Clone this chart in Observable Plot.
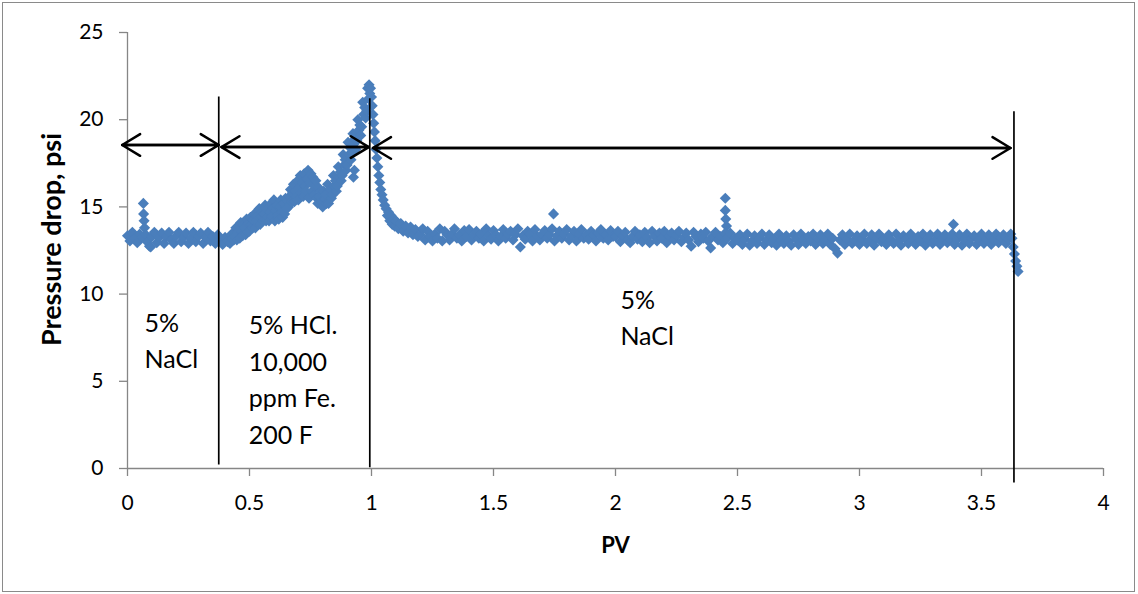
<!DOCTYPE html>
<html>
<head>
<meta charset="utf-8">
<script src="https://cdn.jsdelivr.net/npm/d3@7"></script>
<script src="https://cdn.jsdelivr.net/npm/@observablehq/plot@0.6"></script>
<style>
  html, body { margin: 0; padding: 0; background: #fff; overflow: hidden; }
  #wrap { position: relative; width: 1138px; height: 594px; }
  #frame { position: absolute; left: 2px; top: 2px; width: 1131px; height: 588px;
           border: 1px solid #8a8a8a; pointer-events: none; }
</style>
</head>
<body>
<div id="wrap"><div id="frame"></div></div>
<script>
// Core flood: pressure drop (psi) against injected pore volumes (PV), [pv, dp] readings.
// Stage 1: 5% NaCl preflush
const preflushNaCl = [
  [0.00,13.35],[0.01,13.05],[0.02,13.55],[0.03,13.2],[0.04,12.95],[0.05,13.45],[0.06,13.25],
  [0.065,15.2],[0.066,14.6],[0.068,14.2],[0.07,13.8],[0.075,13.4],[0.08,13.0],[0.09,12.75],[0.095,12.7],
  [0.10,13.3],[0.11,13.55],[0.12,12.95],[0.13,13.25],[0.14,13.5],[0.15,12.9],[0.16,13.3],[0.17,13.55],[0.18,13.1],[0.19,12.9],
  [0.20,13.35],[0.21,13.55],[0.22,13.0],[0.23,13.25],[0.24,13.5],[0.25,12.9],[0.26,13.2],[0.27,13.55],[0.28,13.0],[0.29,13.3],
  [0.30,13.5],[0.31,12.9],[0.32,13.25],[0.33,13.55],[0.34,13.05],[0.35,13.3],[0.36,12.9],[0.37,13.4],[0.38,13.15],[0.39,12.85],
  [0.40,13.25],[0.41,13.0]
];

// Stage 2: 5% HCl with 10,000 ppm Fe at 200 F
const acidHCl = [
  [0.420,12.9],[0.424,13.4],[0.428,13.15],[0.432,13.5],[0.436,13.1],
  [0.440,13.3],[0.444,13.8],[0.448,13.1],[0.452,13.55],[0.456,13.9],
  [0.460,13.2],[0.464,14.1],[0.468,13.6],[0.472,13.35],[0.476,14.0],
  [0.480,13.8],[0.484,13.4],[0.488,14.3],[0.492,13.6],[0.496,14.05],
  [0.500,13.6],[0.504,14.4],[0.508,14.0],[0.512,13.8],[0.516,14.25],
  [0.520,14.6],[0.524,13.8],[0.528,14.2],[0.532,14.5],[0.536,14.0],
  [0.540,14.9],[0.544,14.0],[0.548,14.45],[0.552,14.7],[0.556,14.2],
  [0.560,14.6],[0.564,15.1],[0.568,14.2],[0.572,14.85],[0.576,14.4],
  [0.580,14.2],[0.584,14.7],[0.588,15.2],[0.592,14.45],[0.596,14.95],
  [0.600,15.4],[0.604,14.2],[0.608,14.8],[0.612,15.1],[0.616,14.5],
  [0.620,14.3],[0.624,15.0],[0.628,15.4],[0.632,14.7],[0.636,14.4],
  [0.640,15.2],[0.644,14.6],[0.648,15.5],[0.652,14.9],[0.656,15.3],
  [0.660,15.0],[0.664,15.6],[0.668,16.0],[0.672,15.3],[0.676,15.8],
  [0.680,16.3],[0.684,15.3],[0.688,15.9],[0.692,15.6],[0.696,16.5],
  [0.700,15.4],[0.704,16.1],[0.708,16.8],[0.712,15.8],[0.716,16.4],
  [0.720,15.6],[0.724,16.9],[0.728,16.2],[0.732,15.9],[0.736,16.6],
  [0.740,17.1],[0.744,15.5],[0.748,16.4],[0.752,16.9],[0.756,15.9],
  [0.760,16.7],[0.764,15.7],[0.768,16.2],[0.772,16.5],[0.776,15.5],
  [0.780,15.2],[0.784,16.1],[0.788,15.6],[0.792,15.9],[0.796,15.3],
  [0.800,15.0],[0.804,15.9],[0.808,15.45],[0.812,15.7],[0.816,15.2],
  [0.820,16.3],[0.824,15.2],[0.828,15.8],[0.832,16.0],[0.836,15.5],
  [0.840,15.7],[0.844,16.8],[0.848,16.2],[0.852,16.5],[0.856,15.9],
  [0.860,16.2],[0.864,17.3],[0.868,16.7],[0.872,17.0],[0.876,16.5],
  [0.880,16.8],[0.884,18.0],[0.888,17.4],[0.892,17.7],[0.896,17.1],
  [0.900,17.4],[0.904,18.7],[0.908,18.0],[0.912,18.4],[0.916,17.7],
  [0.920,18.1],[0.924,19.2],[0.926,16.7],[0.928,18.6],[0.930,17.1],[0.932,18.9],[0.936,18.3],
  [0.940,18.8],[0.944,20.0],[0.948,19.4],[0.952,19.7],[0.956,19.1],
  [0.960,19.6],[0.964,21.0],[0.968,20.3],[0.972,20.7],[0.976,20.1],
  [0.980,20.5],[0.984,21.8],[0.988,21.2],[0.990,22.0],[0.993,21.5]
];

// Stage 3: 5% NaCl postflush
const postflushNaCl = [
  [0.996,21.8],[1.000,21.3],[1.003,20.8],[1.006,20.3],[1.009,19.8],[1.012,19.3],[1.015,18.8],[1.018,18.3],[1.022,17.8],[1.026,17.3],
  [1.030,16.8],[1.034,16.4],[1.038,16.0],[1.043,15.7],[1.048,15.4],[1.054,15.1],[1.06,14.9],[1.065,14.5],[1.07,14.7],[1.075,14.2],
  [1.08,14.5],[1.085,14.0],[1.09,14.3],[1.095,13.9],[1.10,14.2],[1.11,13.75],[1.12,14.05],[1.13,13.6],[1.14,13.9],[1.15,13.5],
  [1.16,13.85],[1.17,13.4],[1.18,13.7],[1.19,13.3],
  [1.20,13.4],[1.21,13.75],[1.22,13.1],[1.23,13.6],[1.24,13.35],[1.25,13.05],[1.26,13.45],[1.27,13.2],[1.28,13.75],[1.29,13.05],
  [1.30,13.6],[1.31,13.4],[1.32,13.1],[1.33,13.45],[1.34,13.75],[1.35,13.2],[1.36,13.4],[1.37,13.05],[1.38,13.65],[1.39,13.3],
  [1.40,13.7],[1.41,13.1],[1.42,13.4],[1.43,13.6],[1.44,13.2],[1.45,13.45],[1.46,13.05],[1.47,13.75],[1.48,13.35],[1.49,13.15],
  [1.50,13.65],[1.51,13.4],[1.52,13.05],[1.53,13.3],[1.54,13.7],[1.55,13.2],[1.56,13.45],[1.57,13.6],[1.58,13.1],[1.59,13.4],
  [1.60,13.75],[1.61,12.7],[1.62,13.35],[1.63,13.15],[1.64,13.6],[1.65,13.45],[1.66,13.05],[1.67,13.7],[1.68,13.3],[1.69,13.1],
  [1.70,13.45],[1.71,13.65],[1.72,13.2],[1.73,13.4],[1.74,13.75],[1.746,14.6],[1.75,13.05],[1.76,13.35],[1.77,13.6],[1.78,13.2],[1.79,13.45],
  [1.80,13.7],[1.81,13.1],[1.82,13.35],[1.83,13.6],[1.84,13.05],[1.85,13.45],[1.86,13.7],[1.87,13.2],[1.88,13.4],[1.89,13.15],
  [1.90,13.6],[1.91,13.35],[1.92,13.05],[1.93,13.5],[1.94,13.7],[1.95,13.2],[1.96,13.4],[1.97,13.1],[1.98,13.65],[1.99,13.3],
  [2.00,13.3],[2.01,13.6],[2.02,13.0],[2.03,13.35],[2.04,13.55],[2.05,13.1],[2.06,12.95],[2.07,13.3],[2.08,13.6],[2.09,13.15],
  [2.10,13.4],[2.11,13.0],[2.12,13.55],[2.13,13.25],[2.14,12.95],[2.15,13.6],[2.16,13.3],[2.17,13.05],[2.18,13.5],[2.19,13.2],
  [2.20,13.6],[2.21,12.95],[2.22,13.3],[2.23,13.5],[2.24,13.1],[2.25,13.35],[2.26,13.6],[2.27,13.0],[2.28,13.25],[2.29,13.5],
  [2.30,13.1],[2.31,12.75],[2.32,13.55],[2.33,13.3],[2.34,13.0],[2.35,13.45],[2.36,13.2],[2.37,13.55],[2.38,13.05],[2.39,12.65],
  [2.40,13.35],[2.41,13.55],[2.42,13.1],[2.43,13.3],[2.44,12.95],[2.45,15.5],[2.45,14.8],[2.452,14.3],[2.455,13.9],[2.45,13.5],
  [2.46,13.25],[2.47,13.5],[2.48,12.9],[2.49,13.2],
  [2.50,13.1],[2.51,13.4],[2.52,12.85],[2.53,13.15],[2.54,13.45],[2.55,12.8],[2.56,13.05],[2.57,13.35],[2.58,12.9],[2.59,13.2],
  [2.60,13.45],[2.61,12.85],[2.62,13.1],[2.63,13.4],[2.64,12.95],[2.65,13.15],[2.66,12.8],[2.67,13.45],[2.68,13.1],[2.69,12.9],
  [2.70,13.35],[2.71,13.05],[2.72,12.8],[2.73,13.4],[2.74,13.15],[2.75,12.85],[2.76,13.45],[2.77,13.1],[2.78,12.9],[2.79,13.3],
  [2.80,13.05],[2.81,13.45],[2.82,12.85],[2.83,13.15],[2.84,13.4],[2.85,12.9],[2.86,13.1],[2.87,13.45],[2.88,12.85],[2.89,13.2],
  [2.90,12.6],[2.91,12.35],[2.92,13.1],[2.93,13.4],[2.94,12.85],[2.95,13.15],[2.96,13.45],[2.97,12.9],[2.98,13.1],[2.99,13.35],
  [3.00,12.85],[3.01,13.15],[3.02,13.45],[3.03,12.9],[3.04,13.1],[3.05,13.4],[3.06,12.8],[3.07,13.2],[3.08,13.45],[3.09,13.0],
  [3.10,13.15],[3.11,12.85],[3.12,13.4],[3.13,13.1],[3.14,12.9],[3.15,13.45],[3.16,13.05],[3.17,12.8],[3.18,13.35],[3.19,13.15],
  [3.20,12.9],[3.21,13.45],[3.22,13.1],[3.23,12.85],[3.24,13.3],[3.25,13.05],[3.26,13.45],[3.27,12.8],[3.28,13.15],[3.29,13.4],
  [3.30,12.9],[3.31,13.1],[3.32,13.45],[3.33,12.85],[3.34,13.2],[3.35,13.4],[3.36,12.95],[3.37,13.1],[3.38,13.45],[3.385,14.0],[3.39,12.85],
  [3.40,13.15],[3.41,13.4],[3.42,12.8],[3.43,13.1],[3.44,13.45],[3.45,12.9],[3.46,13.2],[3.47,13.35],[3.48,12.85],[3.49,13.1],
  [3.50,13.45],[3.51,12.9],[3.52,13.15],[3.53,13.4],[3.54,12.85],[3.55,13.1],[3.56,13.45],[3.57,12.95],[3.58,13.2],[3.59,13.4],
  [3.60,12.9],[3.61,13.15],[3.62,13.45],[3.625,13.2],[3.63,12.7],[3.635,12.3],[3.64,11.9],[3.645,11.6],[3.65,11.3]
];

// Axis ticks
const pvTicks = [0, 0.5, 1, 1.5, 2, 2.5, 3, 3.5, 4];
const dpTicks = [0, 5, 10, 15, 20, 25];

// Stage boundaries (vertical lines) in PV, with their vertical extent in psi
const boundaryPv = [0.374, 0.993, 3.633];
const boundaryTop = [21.3, 21.2, 20.46];
const boundaryBottom = [0.2, 0.05, -0.83];

// Double-headed arrows spanning each stage
const spanStart = [-0.022, 0.385, 1.006];
const spanEnd = [0.374, 0.989, 3.619];
const spanDp = [18.55, 18.43, 18.38];

// Stage descriptions
const stageText = ["5%\nNaCl", "5% HCl.\n10,000\nppm Fe.\n200 F", "5%\nNaCl"];
const stageTextPv = [0.07, 0.497, 2.02];
const stageTextDp = [9.34, 9.18, 10.64];

const blue = "#4a7ebb";
const axisGray = "#868686";

const readings = [
  ...preflushNaCl.map(([pv, dp]) => ({pv, dp, stage: "preflush"})),
  ...acidHCl.map(([pv, dp]) => ({pv, dp, stage: "acid"})),
  ...postflushNaCl.map(([pv, dp]) => ({pv, dp, stage: "postflush"}))
];
const boundaries = boundaryPv.map((pv, i) => ({pv, top: boundaryTop[i], bottom: boundaryBottom[i]}));
const spans = spanStart.map((s, i) => ({start: s, end: spanEnd[i], dp: spanDp[i]}));
const labels = stageText.map((text, i) => ({text, pv: stageTextPv[i], dp: stageTextDp[i]}));

const arrowStyle = {stroke: "black", strokeWidth: 2.5, headAngle: 62, headLength: 12.6};

const chart = Plot.plot({
  width: 1138,
  height: 594,
  marginLeft: 127,
  marginRight: 35,
  marginTop: 32,
  marginBottom: 126,
  x: {domain: [0, 4]},
  y: {domain: [0, 25]},
  style: {fontFamily: "Lato, 'Open Sans', sans-serif", background: "transparent", overflow: "visible", color: "black"},
  marks: [
    Plot.axisX({ticks: pvTicks, tickFormat: (d) => `${d}`, tickSize: 8, tickPadding: 19, fontSize: 21,
                stroke: axisGray, strokeWidth: 1.3, fill: "black", label: null}),
    Plot.axisY({ticks: dpTicks, tickFormat: (d) => `${d}`, tickSize: 8, tickPadding: 16, fontSize: 21,
                stroke: axisGray, strokeWidth: 1.3, fill: "black", label: null}),
    Plot.ruleX([0], {stroke: axisGray, strokeWidth: 1.3}),
    Plot.ruleY([0], {stroke: axisGray, strokeWidth: 1.3}),
    Plot.dot(readings, {x: "pv", y: "dp", symbol: "diamond2", r: 5, fill: blue}),
    Plot.ruleX(boundaries, {x: "pv", y1: "bottom", y2: "top", stroke: "black", strokeWidth: 1.7}),
    Plot.arrow(spans, {x1: "start", x2: "end", y1: "dp", y2: "dp", ...arrowStyle}),
    Plot.arrow(spans, {x1: "end", x2: "start", y1: "dp", y2: "dp", ...arrowStyle}),
    Plot.text(labels, {x: "pv", y: "dp", text: "text", textAnchor: "start", lineAnchor: "top",
                       lineHeight: 1.46, fontSize: 25, fill: "black"}),
    Plot.text(["PV"], {frameAnchor: "bottom", dy: 77, lineAnchor: "middle", fontSize: 22,
                       fontWeight: "bold", fill: "black"}),
    Plot.text(["Pressure drop, psi"], {frameAnchor: "left", rotate: -90, dx: -75, dy: -11,
                       textAnchor: "middle", lineAnchor: "middle", fontSize: 27, fontWeight: "bold", fill: "black"})
  ]
});

document.getElementById("wrap").prepend(chart);
</script>
</body>
</html>
